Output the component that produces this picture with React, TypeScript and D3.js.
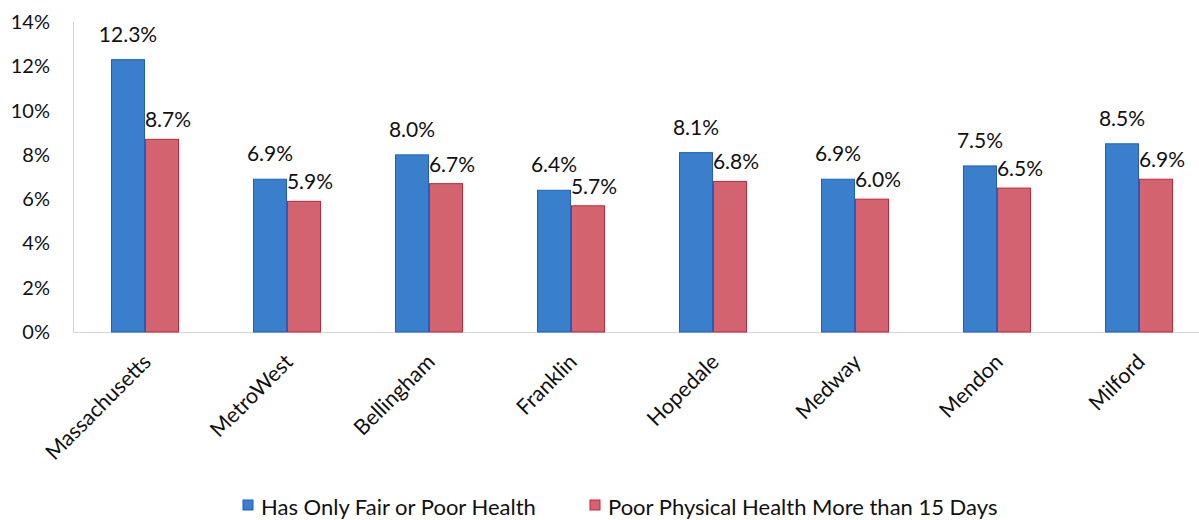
import React from "react";
import * as d3 from "d3";

const categories = ["Massachusetts", "MetroWest", "Bellingham", "Franklin", "Hopedale", "Medway", "Mendon", "Milford"];
const seriesNames = ["Has Only Fair or Poor Health", "Poor Physical Health More than 15 Days"];
const fairPoorHealth = [12.3, 6.9, 8.0, 6.4, 8.1, 6.9, 7.5, 8.5];
const poorPhysical15 = [8.7, 5.9, 6.7, 5.7, 6.8, 6.0, 6.5, 6.9];
const yTicks = [0, 2, 4, 6, 8, 10, 12, 14];

const W = 1199;
const H = 520;
const FONT = "Lato, 'Open Sans', sans-serif";
const fills = ["#3a7fcb", "#d2636f"];
const strokes = ["#1f5fc0", "#c0283a"];

export default function App() {
  const y = d3.scaleLinear().domain([0, 14]).range([332, 22]);
  const x0 = d3.scaleBand<string>().domain(categories).range([74, 74 + 142 * 8]).paddingInner(0).paddingOuter(0);
  const x1 = d3.scaleBand<number>().domain([0, 1]).range([0, x0.bandwidth()]).paddingInner(0).paddingOuter(1.088);
  const series = [fairPoorHealth, poorPhysical15];
  const labelOffset = [18, 12];
  const labelShift = [0, 6];

  return (
    <div style={{ position: "fixed", left: 0, top: 0, width: W, height: H, background: "#fff" }}>
      <svg width={W} height={H} style={{ display: "block", fontFamily: FONT }}>
        <rect x={0} y={0} width={W} height={H} fill="#fff" />
        <line x1={73.5} x2={73.5} y1={22} y2={332} stroke="#d4d4d4" strokeWidth={1} />
        <line x1={73} x2={W} y1={332.5} y2={332.5} stroke="#d4d4d4" strokeWidth={1} />
        {yTicks.map((t) => (
          <text key={t} x={50} y={y(t)} dy="0.35em" textAnchor="end" fontSize={20} fill="#111">
            {t}%
          </text>
        ))}
        {categories.map((c, i) => {
          const gx = x0(c) as number;
          return (
            <g key={c}>
              {series.map((s, k) => {
                const bx = gx + (x1(k) as number);
                const bw = x1.bandwidth();
                return (
                  <g key={k}>
                    <rect x={bx + 0.5} y={y(s[i])} width={bw - 1} height={y(0) - y(s[i])} fill={fills[k]} stroke={strokes[k]} strokeWidth={1} />
                    <text x={bx + bw / 2 + labelShift[k]} y={y(s[i]) - labelOffset[k]} textAnchor="middle" fontSize={21} fill="#111">
                      {s[i].toFixed(1)}%
                    </text>
                  </g>
                );
              })}
              <text
                transform={`translate(${gx + x0.bandwidth() / 2 + 2},${358}) rotate(-45)`}
                textAnchor="end"
                dy="0.35em"
                fontSize={21.5}
                fill="#111"
              >
                {c}
              </text>
            </g>
          );
        })}
        <g>
          <rect x={243} y={500} width={10} height={10} fill={fills[0]} stroke={strokes[0]} />
          <text x={261} y={515} fontSize={22} fill="#111">{seriesNames[0]}</text>
          <rect x={590} y={500} width={10} height={10} fill={fills[1]} stroke={strokes[1]} />
          <text x={608} y={515} fontSize={22} fill="#111">{seriesNames[1]}</text>
        </g>
      </svg>
    </div>
  );
}
